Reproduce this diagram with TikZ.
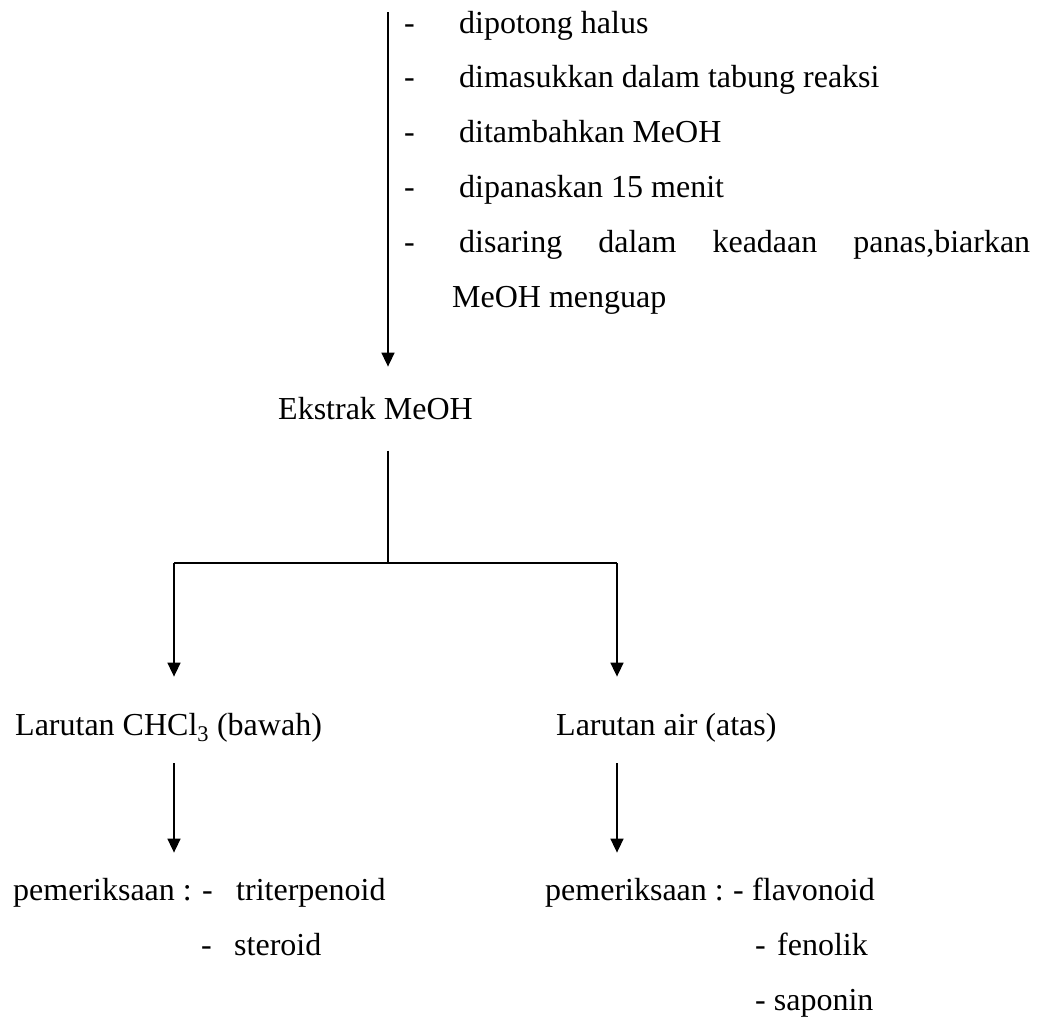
\documentclass[tikz,border=0pt]{standalone}
\usepackage{fontspec}
\setmainfont{Liberation Serif}
\usetikzlibrary{arrows.meta}

\begin{document}
\begin{tikzpicture}[x=1pt, y=-1pt,
  txt/.style={anchor=base west, inner sep=0pt, font=\fontsize{32}{38}\selectfont},
  link/.style={line width=1.6pt},
  flow/.style={link, -{Triangle[width=13pt,length=14pt]}}]
  \useasboundingbox (0,0) rectangle (1044,1021);
  % langkah preparasi sampel
  \foreach \t [count=\i] in {dipotong halus, dimasukkan dalam tabung reaksi,
      ditambahkan MeOH, dipanaskan 15 menit}{
    \node[txt] (d\i) at (404, {33+54.8*(\i-1)}) {-};
    \node[txt] (s\i) at (459, {33+54.8*(\i-1)}) {\t};}
  \node[txt] (d5) at (404,252) {-};
  \node[txt] (s5) at (459,252)
     {\hbox to 571pt{disaring\hfill dalam\hfill keadaan\hfill panas,biarkan}};
  \node[txt] (s6) at (452,307) {MeOH menguap};
  % ekstrak dan partisi
  \node[txt] (ekstrak) at (278,419) {Ekstrak MeOH};
  \node[txt] (lar1) at (15,735) {Larutan CHCl\textsubscript{3} (bawah)};
  \node[txt] (lar2) at (556,735) {Larutan air (atas)};
  % pemeriksaan
  \node[txt] (p1) at (13,900) {pemeriksaan :};
  \node[txt] (p1d) at (202,900) {-};
  \node[txt] (p1a) at (236,900) {triterpenoid};
  \node[txt] (p1e) at (201,955) {-};
  \node[txt] (p1b) at (234,955) {steroid};
  \node[txt] (p2) at (545,900) {pemeriksaan :};
  \node[txt] (p2d) at (733,900) {-};
  \node[txt] (p2a) at (752,900) {flavonoid};
  \node[txt] (p2e) at (755,955) {-};
  \node[txt] (p2b) at (777,955) {fenolik};
  \node[txt] (p2c) at (755,1010) {- saponin};
  % alur
  \coordinate (in) at (388,12);
  \coordinate (split) at (388,563);
  \coordinate (kiri) at (174,563);
  \coordinate (kanan) at (617,563);
  \draw[flow] (in) -- ([yshift=30pt]ekstrak.north -| in);
  \draw[link] ([yshift=-31pt]ekstrak.south -| in) -- (split);
  \draw[link] (kiri) -- (kanan);
  \draw[flow] (kiri) -- ([yshift=36pt]lar1.north -| kiri);
  \draw[flow] (kanan) -- ([yshift=36pt]lar2.north -| kanan);
  \draw[flow] ([yshift=-28pt]lar1.base -| kiri) -- ([yshift=25pt]p1.north -| kiri);
  \draw[flow] ([yshift=-28pt]lar2.base -| kanan) -- ([yshift=25pt]p2.north -| kanan);
\end{tikzpicture}
\end{document}
